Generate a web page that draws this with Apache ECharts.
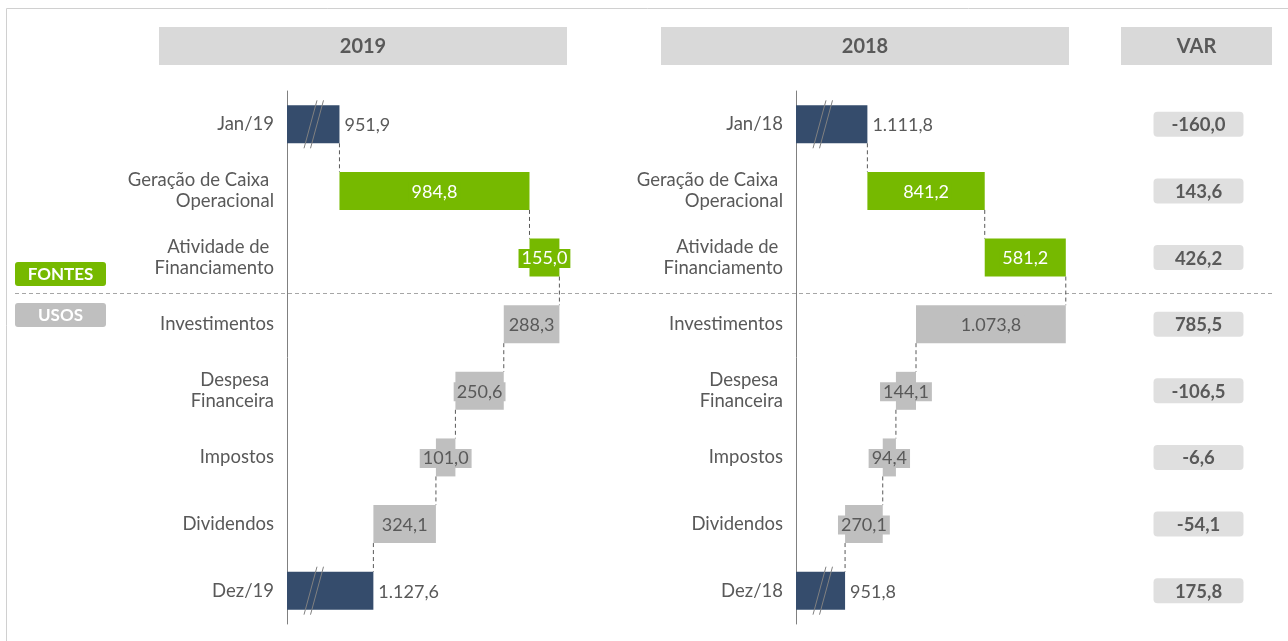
<!DOCTYPE html>
<html>
<head>
<meta charset="utf-8">
<title>Fluxo de caixa 2019 x 2018</title>
<script src="https://cdn.jsdelivr.net/npm/echarts@6/dist/echarts.min.js"></script>
<style>
  html, body { margin: 0; padding: 0; background: #fff; }
  #chart { width: 1288px; height: 641px; }
</style>
</head>
<body>
<div id="chart"></div>
<script>
// dados
const categories2019 = ['Jan/19', 'Geração de Caixa \nOperacional', 'Atividade de \nFinanciamento', 'Investimentos', 'Despesa \nFinanceira', 'Impostos', 'Dividendos', 'Dez/19']
const categories2018 = ['Jan/18', 'Geração de Caixa \nOperacional', 'Atividade de \nFinanciamento', 'Investimentos', 'Despesa \nFinanceira', 'Impostos', 'Dividendos', 'Dez/18']
// 0 = saldo, 1 = fonte, 2 = uso
const kinds = [0, 1, 1, 2, 2, 2, 2, 0]
const values2019 = [951.9, 984.8, 155.0, 288.3, 250.6, 101.0, 324.1, 1127.6]
const values2018 = [1111.8, 841.2, 581.2, 1073.8, 144.1, 94.4, 270.1, 951.8]
const varValues = [-160.0, 143.6, 426.2, 785.5, -106.5, -6.6, -54.1, 175.8]
const headers = ['2019', '2018', 'VAR']
const groupLabels = ['FONTES', 'USOS']

const NAVY = '#354c6c'
const GREEN = '#76b900'
const GRAY = '#bfbfbf'
const TEXT = '#595959'
const FONT = 'Lato, "Open Sans", sans-serif'

const fmt = (v) => {
  const s = Math.abs(v).toFixed(1).split('.')
  const int = s[0].replace(/\B(?=(\d{3})+(?!\d))/g, '.')
  return (v < 0 ? '-' : '') + int + ',' + s[1]
}

// monta [indice, inicio, fim, valor, tipo, acumulado]
const buildSteps = (values) => {
  let running = 0
  return values.map((v, i) => {
    const k = kinds[i]
    let start, end
    if (k === 0) { start = v; end = v; running = v }
    else if (k === 1) { start = running; end = running + v; running = end }
    else { start = running - v; end = running; running = start }
    return [i, start, end, v, k, running]
  })
}

const renderWaterfall = (params, api) => {
  const i = api.value(0)
  const start = api.value(1)
  const end = api.value(2)
  const v = api.value(3)
  const k = api.value(4)
  const running = api.value(5)
  const cs = params.coordSys
  const band = api.size([0, 1])[1]
  const h = band * 0.57
  const cy = api.coord([end, i])[1]
  const x0 = k === 0 ? cs.x : api.coord([start, i])[0]
  const x1 = api.coord([end, i])[0]
  const children = []

  children.push({
    type: 'rect',
    shape: { x: x0, y: cy - h / 2, width: x1 - x0, height: h },
    style: { fill: k === 0 ? NAVY : k === 1 ? GREEN : GRAY }
  })

  if (k === 0) {
    // marca de quebra do eixo
    const yTop = cy - h / 2 - 5
    const yBot = cy + h / 2 + 5
    ;[0, 6.5].forEach(d => {
      children.push({
        type: 'line',
        shape: { x1: cs.x + 17 + d, y1: yBot, x2: cs.x + 30 + d, y2: yTop },
        style: { stroke: '#808080', lineWidth: 1 }
      })
    })
    children.push({
      type: 'text',
      style: { text: fmt(v), x: x1 + 5, y: cy + 1, align: 'left', verticalAlign: 'middle', fill: TEXT, font: '18px ' + FONT }
    })
  } else {
    children.push({
      type: 'text',
      z2: 10,
      style: {
        text: fmt(v), x: (x0 + x1) / 2, y: cy + 1, align: 'center', verticalAlign: 'middle',
        fill: k === 1 ? '#fff' : TEXT, font: '18px ' + FONT,
        backgroundColor: k === 1 ? GREEN : GRAY, padding: [1, 3, 0, 3]
      }
    })
  }

  if (i < kinds.length - 1) {
    const xc = api.coord([running, i])[0]
    children.push({
      type: 'line',
      shape: { x1: xc, y1: cy + h / 2, x2: xc, y2: cy + band - h / 2 },
      style: { stroke: TEXT, lineWidth: 1, lineDash: [4, 3] }
    })
  }
  return { type: 'group', children }
}

const renderVar = (params, api) => {
  const i = api.value(0)
  const p = api.coord([0.5, i])
  return {
    type: 'group',
    children: [
      { type: 'rect', shape: { x: p[0] - 45, y: p[1] - 12.5, width: 90, height: 25, r: 4 }, style: { fill: '#dfdfdf' } },
      { type: 'text', style: { text: fmt(varValues[i]), x: p[0], y: p[1] + 1, align: 'center', verticalAlign: 'middle', fill: TEXT, font: 'bold 18.5px ' + FONT } }
    ]
  }
}

const gridTop = 91
const gridHeight = 533
const catAxis = (gridIndex, data, show) => ({
  type: 'category',
  gridIndex,
  data,
  inverse: true,
  axisLine: { show, onZero: false, lineStyle: { color: '#808080', width: 1 } },
  axisTick: { show: false },
  axisLabel: { show, color: TEXT, fontSize: 18.5, fontFamily: FONT, lineHeight: 21, margin: 13, align: 'right' },
  splitLine: { show: false }
})
const valAxis = (gridIndex, min, max) => ({ type: 'value', gridIndex, min, max, show: false, splitLine: { show: false } })

const headerBox = (x, w, text) => ({
  type: 'group',
  children: [
    { type: 'rect', shape: { x, y: 27, width: w, height: 38 }, style: { fill: '#d9d9d9' } },
    { type: 'text', style: { text, x: x + w / 2, y: 47, align: 'center', verticalAlign: 'middle', fill: TEXT, font: 'bold 20px ' + FONT } }
  ]
})
const tagBox = (y, fill, text) => ({
  type: 'group',
  children: [
    { type: 'rect', shape: { x: 15, y, width: 91, height: 24, r: 3 }, style: { fill } },
    { type: 'text', style: { text, x: 60.5, y: y + 13, align: 'center', verticalAlign: 'middle', fill: '#fff', font: 'bold 17px ' + FONT } }
  ]
})

const chart = echarts.init(document.getElementById('chart'))
chart.setOption({
  animation: false,
  grid: [
    { left: 287, top: gridTop, width: 274, height: gridHeight },
    { left: 796, top: gridTop, width: 272, height: gridHeight },
    { left: 1124, top: gridTop, width: 149, height: gridHeight }
  ],
  xAxis: [valAxis(0, 680, 2100), valAxis(1, 600, 2550), valAxis(2, 0, 1)],
  yAxis: [catAxis(0, categories2019, true), catAxis(1, categories2018, true), catAxis(2, varValues.map(() => ''), false)],
  graphic: [
    { type: 'rect', silent: true, shape: { x: 6.5, y: 8.5, width: 1400, height: 800 }, style: { fill: 'none', stroke: '#d0d0d0', lineWidth: 1 } },
    headerBox(159, 408, headers[0]),
    headerBox(661, 408, headers[1]),
    headerBox(1121, 151, headers[2]),
    { type: 'line', shape: { x1: 15, y1: 293.5, x2: 1272, y2: 293.5 }, style: { stroke: '#a6a6a6', lineWidth: 1, lineDash: [4, 3] }, z: -1 },
    tagBox(262, GREEN, groupLabels[0]),
    tagBox(303, GRAY, groupLabels[1])
  ],
  series: [
    { type: 'custom', xAxisIndex: 0, yAxisIndex: 0, renderItem: renderWaterfall, data: buildSteps(values2019), encode: { x: [1, 2], y: 0 } },
    { type: 'custom', xAxisIndex: 1, yAxisIndex: 1, renderItem: renderWaterfall, data: buildSteps(values2018), encode: { x: [1, 2], y: 0 } },
    { type: 'custom', xAxisIndex: 2, yAxisIndex: 2, renderItem: renderVar, data: varValues.map((v, i) => [i, v]), encode: { y: 0 } }
  ]
})
</script>
</body>
</html>
